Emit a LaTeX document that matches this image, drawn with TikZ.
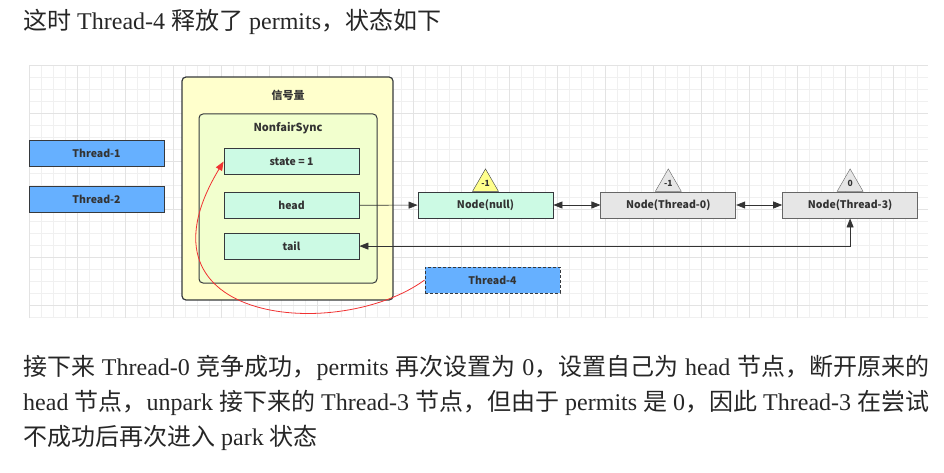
\documentclass[tikz,border=0pt]{standalone}
\usepackage{fontspec}
\setmainfont{Liberation Serif}
\newfontfamily\cjk{Noto Sans CJK SC}
\usepackage{tikz}
\usetikzlibrary{arrows.meta,positioning,shapes.geometric}
\usepackage{xcolor}

\definecolor{threadblue}{RGB}{102,176,255}
\definecolor{mint}{RGB}{204,250,228}
\definecolor{semayellow}{RGB}{255,255,204}
\definecolor{syncgreen}{RGB}{242,255,206}
\definecolor{nodegrey}{RGB}{230,230,230}
\definecolor{wsyellow}{RGB}{255,255,140}
\definecolor{edgegrey}{RGB}{54,57,61}
\definecolor{linkred}{RGB}{240,50,50}

\newcommand{\zh}[1]{{\cjk #1}}

\begin{document}
\begin{tikzpicture}[
        x=1pt, y=-1pt,
        box/.style={draw=edgegrey, line width=0.8pt, minimum width=135pt, minimum height=26pt, inner sep=0pt,
          font=\cjk\bfseries\fontsize{10.5}{12}\selectfont, text=black!80},
        thread/.style={box, fill=threadblue},
        field/.style={box, fill=mint},
        qnode/.style={box, draw=black!60, fill=nodegrey},
        container/.style={draw=edgegrey, rounded corners=4pt, inner sep=0pt},
        title/.style={inner sep=0pt, font=\cjk\bfseries\fontsize{11}{13}\selectfont, text=black!80},
        wstat/.style={draw=black!60, fill=nodegrey, regular polygon, regular polygon sides=3, minimum size=30pt,
          inner sep=0pt, anchor=south, font=\cjk\bfseries\fontsize{8.5}{10}\selectfont, text=black!80},
        link/.style={draw=black!80, line width=0.7pt, -{Triangle[length=9pt,width=7pt]}},
        dlink/.style={draw=black!80, line width=0.7pt, {Triangle[length=9pt,width=7pt]}-{Triangle[length=9pt,width=7pt]}},
        body/.style={anchor=base west, inner sep=0pt, font=\fontsize{24}{28}\selectfont, text=black!85}
      ]
      \useasboundingbox (0,0) rectangle (944,473);

      % grid paper behind the diagram
      \draw[shift={(29,65)}, black!6, line width=0.4pt, xstep=12pt, ystep=12pt] (0,0) grid (899,253);
      \draw[shift={(29,65)}, black!11, line width=0.4pt, xstep=48pt, ystep=48pt] (0,0) grid (899,253);

      \node[body] (intro) at (23,30) {\zh{这时} Thread-4 \zh{释放了} permits\zh{，状态如下}};

      \node[thread] (t1) at (96.5,153) {Thread-1};
      \node[thread] (t2) [below=20pt of t1] {Thread-2};

      \node[container, line width=1.2pt, fill=semayellow, minimum width=211pt, minimum height=223pt] (sema) at (287.5,188.5) {};
      \node[title] (semtitle) at (288,95) {信号量};
      \node[container, line width=1pt, fill=syncgreen, minimum width=178pt, minimum height=169pt] (sync) at (288,198.5) {};
      \node[title] (synctitle) at (288,128.5) {NonfairSync};

      \node[field] (state) at (291.5,161.5) {state = 1};
      \node[field] (head) [below=17pt of state] {head};
      \node[field] (tail) [below=14pt of head] {tail};

      \node[thread, dashed, dash pattern=on 3pt off 2pt] (t4) at (492.5,280) {Thread-4};

      \node[qnode, draw=edgegrey, fill=mint] (nnull) at (485.5,205) {Node(null)};
      \node[qnode] (nt0) [right=47pt of nnull] {Node(Thread-0)};
      \node[qnode] (nt3) [right=46pt of nt0] {Node(Thread-3)};

      \node[wstat, fill=wsyellow, draw=edgegrey] (ws0) at (nnull.north) {-1};
      \node[wstat] (ws1) at (nt0.north) {-1};
      \node[wstat] (ws2) at (nt3.north) {0};

      \draw[link] (head) -- (nnull);
      \draw[dlink] (nnull) -- (nt0);
      \draw[dlink] (nt0) -- (nt3);
      \draw[dlink] (tail) -| (nt3);

      \draw[linkred, line width=0.8pt, -{Triangle[length=9pt,width=7pt]}] (t4.west) .. controls (340,342) and (125,325) .. (state.west);

      \node[body] (desc1) at (23,375) {\makebox[906pt][s]{\zh{接下来} Thread-0 \zh{竞争成功，}permits \zh{再次设置为} 0\zh{，设置自己为} head \zh{节点，断开原来的}}};
      \node[body] (desc2) at (23,410) {\makebox[906pt][s]{head \zh{节点，}unpark \zh{接下来的} Thread-3 \zh{节点，但由于} permits \zh{是} 0\zh{，因此} Thread-3 \zh{在尝试}}};
      \node[body] (desc3) at (23,445) {\zh{不成功后再次进入} park \zh{状态}};

    \end{tikzpicture}
\end{document}
